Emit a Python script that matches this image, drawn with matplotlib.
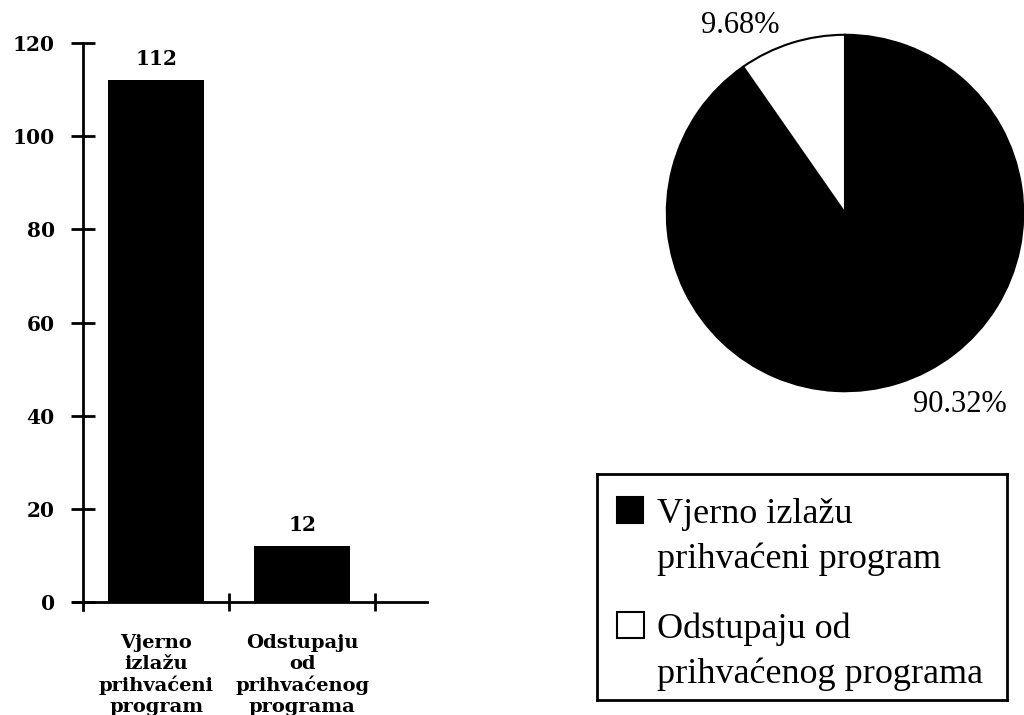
import matplotlib
matplotlib.use("Agg")
import matplotlib.pyplot as plt
from matplotlib.patches import Rectangle
from matplotlib.ticker import FixedLocator, NullFormatter

# ---- data ----
categories = ["Vjerno\nizlažu\nprihvaćeni\nprogram",
              "Odstupaju\nod\nprihvaćenog\nprograma"]
counts = [112, 12]
yticks = [0, 20, 40, 60, 80, 100, 120]
pie_values = [90.32, 9.68]
pie_colors = ["black", "white"]
legend_labels = ["Vjerno izlažu\nprihvaćeni program",
                 "Odstupaju od\nprihvaćenog programa"]

BOLD_SERIF = "DejaVu Serif"
SERIF = "Liberation Serif"

fig = plt.figure(figsize=(10.24, 7.15), dpi=100)
fig.patch.set_facecolor("white")

# ---- bar chart ----
ax = fig.add_axes([73/1024, 1 - 610.4/715, 354/1024, (610.4 - 43)/715])
x = list(range(len(counts)))
ax.bar(x, counts, width=0.66, color="black", zorder=1)
ax.set_xlim(-0.57, 1.856)
ax.set_ylim(-1.8, 120)
for s in ["top", "right"]:
    ax.spines[s].set_visible(False)
ax.spines["left"].set_position(("data", -0.5))
ax.spines["bottom"].set_position(("data", 0))
for s in ["left", "bottom"]:
    ax.spines[s].set_linewidth(2)
    ax.spines[s].set_zorder(3)

ax.set_yticks(yticks)
ax.set_yticklabels([str(t) for t in yticks], fontfamily=BOLD_SERIF,
                   fontweight="bold", fontsize=14.5)
ax.tick_params(axis="y", direction="inout", length=17, width=2, pad=12)

ax.xaxis.set_major_locator(FixedLocator([0.5, 1.5]))
ax.xaxis.set_major_formatter(NullFormatter())
ax.tick_params(axis="x", which="major", direction="inout", length=13, width=2)
ax.set_xticks(x, minor=True)
ax.set_xticklabels(categories, minor=True, fontfamily=BOLD_SERIF,
                   fontweight="bold", fontsize=14, linespacing=1.2)
ax.tick_params(axis="x", which="minor", length=0, pad=23)

for xi, v in zip(x, counts):
    ax.annotate(str(v), xy=(xi, v), xytext=(0, 11), textcoords="offset points",
                ha="center", va="baseline", fontfamily=BOLD_SERIF,
                fontweight="bold", fontsize=14.5)

# ---- pie chart ----
ax2 = fig.add_axes([665/1024, 1 - 393/715, 360/1024, 360/715])
ax2.pie(pie_values, colors=pie_colors, startangle=90, counterclock=False,
        wedgeprops=dict(edgecolor="black", linewidth=1.5))
ax2.set_xlim(-1.01, 1.01)
ax2.set_ylim(-1.01, 1.01)
ax2.set_aspect("equal")
ax2.axis("off")
pct_pos = [(0.646, -1.118), (-0.59, 1.01)]
for v, (px, py) in zip(pie_values, pct_pos):
    ax2.text(px, py, f"{v:.2f}%", ha="center", va="baseline",
             fontfamily=SERIF, fontsize=22, clip_on=False)

# ---- legend box ----
lg = fig.add_axes([597/1024, 1 - 700/715, 410/1024, 226/715])
lg.set_xlim(0, 410)
lg.set_ylim(226, 0)
lg.set_xticks([])
lg.set_yticks([])
for s in lg.spines.values():
    s.set_linewidth(2)
marker_boxes = [(20, 23, 26, 26), (20, 138, 27, 26)]
baselines = [(49, 94), (164, 209)]
for lab, col, (mx, my, mw, mh), bl in zip(legend_labels, pie_colors,
                                          marker_boxes, baselines):
    lg.add_patch(Rectangle((mx, my), mw, mh, facecolor=col,
                           edgecolor="black", linewidth=1.5))
    for line, yb in zip(lab.split("\n"), bl):
        lg.text(60, yb, line, ha="left", va="baseline",
                fontfamily=SERIF, fontsize=26)

fig.savefig("out.png", dpi=100, facecolor="white")
